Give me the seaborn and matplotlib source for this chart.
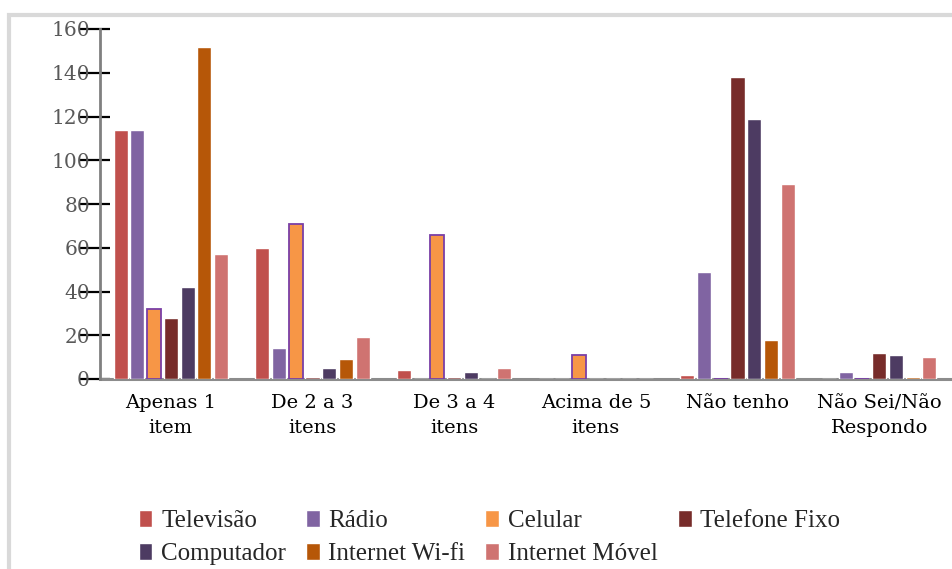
import matplotlib
matplotlib.use("Agg")
import matplotlib.pyplot as plt
import seaborn as sns
import pandas as pd
from matplotlib.patches import Rectangle

categories = ["Apenas 1\nitem", "De 2 a 3\nitens", "De 3 a 4\nitens",
              "Acima de 5\nitens", "Não tenho", "Não Sei/Não\nRespondo"]
series = ["Televisão", "Rádio", "Celular", "Telefone Fixo",
          "Computador", "Internet Wi-fi", "Internet Móvel"]
televisao = [114, 60, 4, 0, 2, 0]
radio = [114, 14, 0, 0, 49, 3]
celular = [32, 71, 66, 11, 0, 0]
telefone_fixo = [28, 1, 1, 0, 138, 12]
computador = [42, 5, 3, 0, 119, 11]
internet_wifi = [152, 9, 0, 0, 18, 1]
internet_movel = [57, 19, 5, 0, 89, 10]
yticks = [0, 20, 40, 60, 80, 100, 120, 140, 160]

colors = ["#C0504D", "#8064A2", "#F79646", "#772C2A",
          "#4D3B62", "#B65708", "#CF7371"]

values = [televisao, radio, celular, telefone_fixo,
          computador, internet_wifi, internet_movel]
rows = []
for s, vals in zip(series, values):
    for c, v in zip(categories, vals):
        rows.append({"cat": c, "serie": s, "val": v})
df = pd.DataFrame(rows)

sns.set_theme(style="white")
plt.rcParams['font.family'] = ['DejaVu Serif', 'DejaVu Sans']

fig = plt.figure(figsize=(9.52, 5.69), dpi=100)
ax = fig.add_axes([100/952, 1-379/569, 850/952, 350/569])

sns.barplot(data=df, x="cat", y="val", hue="serie", order=categories,
            hue_order=series, palette=dict(zip(series, colors)),
            width=0.825, gap=0.16, saturation=1, ax=ax, legend=True,
            zorder=3)

for bar in ax.containers[2]:
    bar.set_edgecolor("#7A3FA6")
    bar.set_linewidth(1.3)

ax.set_xlim(-0.5, len(categories) - 0.5)
ax.set_ylim(0, 160)
ax.set_yticks(yticks)
ax.set_yticks(yticks, minor=True)
ax.yaxis.remove_overlapping_locs = False
ax.set_xlabel("")
ax.set_ylabel("")

for side in ["top", "right"]:
    ax.spines[side].set_visible(False)
ax.spines["left"].set_color("#808080")
ax.spines["left"].set_linewidth(2)
ax.spines["bottom"].set_color("#8C8C8C")
ax.spines["bottom"].set_linewidth(2.2)
ax.spines["bottom"].set_zorder(2)

ax.tick_params(axis="y", which="major", left=True, direction="out",
               length=14.4, width=1.6, color="black", labelsize=14.5,
               labelcolor="#595959", pad=-7.2)
ax.tick_params(axis="y", which="minor", left=True, direction="in",
               length=7.2, width=1.6, color="black", labelleft=False)
ax.tick_params(axis="x", bottom=False, labelsize=14, labelcolor="black", pad=5)
for lab in ax.get_xticklabels():
    lab.set_linespacing(1.5)

handles, labels = ax.get_legend_handles_labels()
order = [0, 4, 1, 5, 2, 6, 3]
ax.legend([handles[i] for i in order], [labels[i] for i in order],
          ncol=4, loc="upper left", bbox_to_anchor=(126/952, 1-497/569),
          bbox_transform=fig.transFigure, frameon=False,
          prop={"family": "Liberation Serif", "size": 18},
          handlelength=0.55, handleheight=0.7, handletextpad=0.35,
          columnspacing=0.8, labelspacing=0.42, borderpad=0)

fig.patches.append(Rectangle((9/952, -0.2), 1.2, 1.2 - 15/569 + 0.0,
                             transform=fig.transFigure, fill=False,
                             edgecolor="#D9D9D9", linewidth=3))

fig.savefig("out.png", dpi=100)
